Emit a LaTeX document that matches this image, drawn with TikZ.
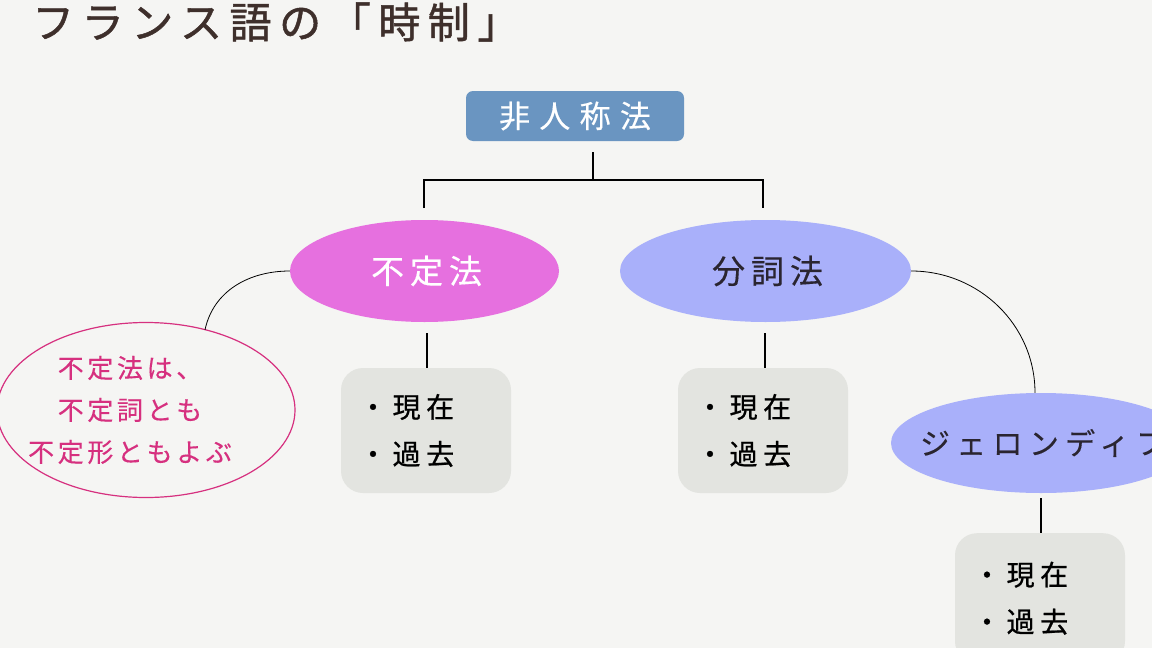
\documentclass[tikz,border=0pt]{standalone}
\usepackage{fontspec}
\usetikzlibrary{shapes.geometric,calc}
\newfontfamily\jp{Noto Sans CJK JP}
\newfontfamily\jptitle[LetterSpace=18,FakeBold=1.2]{Noto Sans CJK JP}
\newfontfamily\jptop[LetterSpace=30,FakeBold=0.4]{Noto Sans CJK JP}
\newfontfamily\jpell[LetterSpace=18,FakeBold=0.3]{Noto Sans CJK JP}
\newfontfamily\jpger[LetterSpace=21,FakeBold=0.3]{Noto Sans CJK JP}
\newfontfamily\jpbox[LetterSpace=20,FakeBold=0.8]{Noto Sans CJK JP}
\newfontfamily\jpnote[LetterSpace=14,FakeBold=0.3]{Noto Sans CJK JP}
\definecolor{bg}{HTML}{F5F5F3}
\definecolor{titlec}{HTML}{3E2F2B}
\definecolor{topc}{HTML}{6A95C1}
\definecolor{infc}{HTML}{E670DF}
\definecolor{partc}{HTML}{A9B0FA}
\definecolor{boxc}{HTML}{E3E4E0}
\definecolor{notec}{HTML}{D6307F}
\definecolor{darktext}{HTML}{2A2530}
\tikzset{
  ellnode/.style={ellipse, inner sep=0pt, font=\jpell\fontsize{33}{38}\selectfont},
  graybox/.style={rectangle, rounded corners=22pt, fill=boxc, inner xsep=18pt, inner ysep=0pt, text width=134pt, minimum width=170pt, align=left, font=\jpbox\fontsize{28}{47}\selectfont, text=black},
  tree/.style={line width=1.8pt, black},
  thin/.style={line width=0.8pt, black},
}
\begin{document}
\begin{tikzpicture}[x=1pt,y=-1pt]
\useasboundingbox (0,0) rectangle (1152,648);
\fill[bg] (0,0) rectangle (1152,648);
\clip (0,0) rectangle (1152,648);
% title
\node[anchor=west, text=titlec, font=\jptitle\fontsize{42}{46}\selectfont, inner sep=0pt] (title) at (32,22) {フランス語の「時制」};
% top node
\node[rectangle, rounded corners=7pt, fill=topc, minimum width=218pt, minimum height=50pt, text=white, font=\jptop\fontsize{31}{36}\selectfont, inner sep=0pt] (top) at (575,116) {非人称法};
% ellipses
\node[ellnode, fill=infc, minimum width=269pt, minimum height=102pt, text=white] (inf) at (424.5,271) {\hspace*{4pt}不定法};
\node[ellnode, fill=partc, minimum width=291pt, minimum height=102pt, text=darktext] (part) at (765.5,271) {\hspace*{4pt}分詞法};
\node[ellnode, fill=partc, minimum width=300pt, minimum height=100pt, text=darktext, font=\jpger\fontsize{30}{36}\selectfont] (ger) at (1041,443) {\makebox[200pt][l]{\hspace*{-21pt}ジェロンディフ}};
% gray boxes
\node[graybox, minimum height=125pt] (box1) at (426,430.5) {・現在\\・過去};
\node[graybox, minimum height=125pt] (box2) at (763,430.5) {・現在\\・過去};
\node[graybox, minimum height=130pt, anchor=north] (box3) at (1040,533) {・現在\\・過去};
% note
\node[ellipse, draw=notec, line width=1.2pt, minimum width=298pt, minimum height=175pt, inner sep=0pt, align=center, text=notec, font=\jpnote\fontsize{26}{42}\selectfont] (note) at (146,410) {\makebox[170pt][c]{\hspace*{-32pt}不定法は、}\\\makebox[170pt][c]{\hspace*{-32pt}不定詞とも}\\\makebox[170pt][c]{\hspace*{-32pt}不定形ともよぶ}};
% tree connectors
\coordinate (tA) at ($(top.south)+(18,11)$);
\coordinate (tJ) at ($(top.south)+(18,39)$);
\coordinate (tL) at ($(inf.north |- tJ)+(-0.5,0)$);
\coordinate (tR) at ($(part.north |- tJ)+(-2.5,0)$);
\draw[tree] (tA) -- (tJ);
\draw[tree] ($(tL)+(0,28)$) -- (tL) -- (tR) -- ($(tR)+(0,28)$);
% vertical connectors to boxes
\draw[tree] ($(inf.south)+(2.5,11)$) -- ($(box1.north)+(1,0)$);
\draw[tree] ($(part.south)+(-0.5,11)$) -- ($(box2.north)+(2,0)$);
\draw[tree] ($(ger.south)+(0,5)$) -- (box3.north -| ger.south);
% curves
\draw[thin] (inf.west) to[out=180,in=78] ($(note.north)+(59,8)$);
\draw[thin] (part.east) to[out=0,in=90] ($(ger.north)+(-6,0)$);
\end{tikzpicture}
\end{document}
